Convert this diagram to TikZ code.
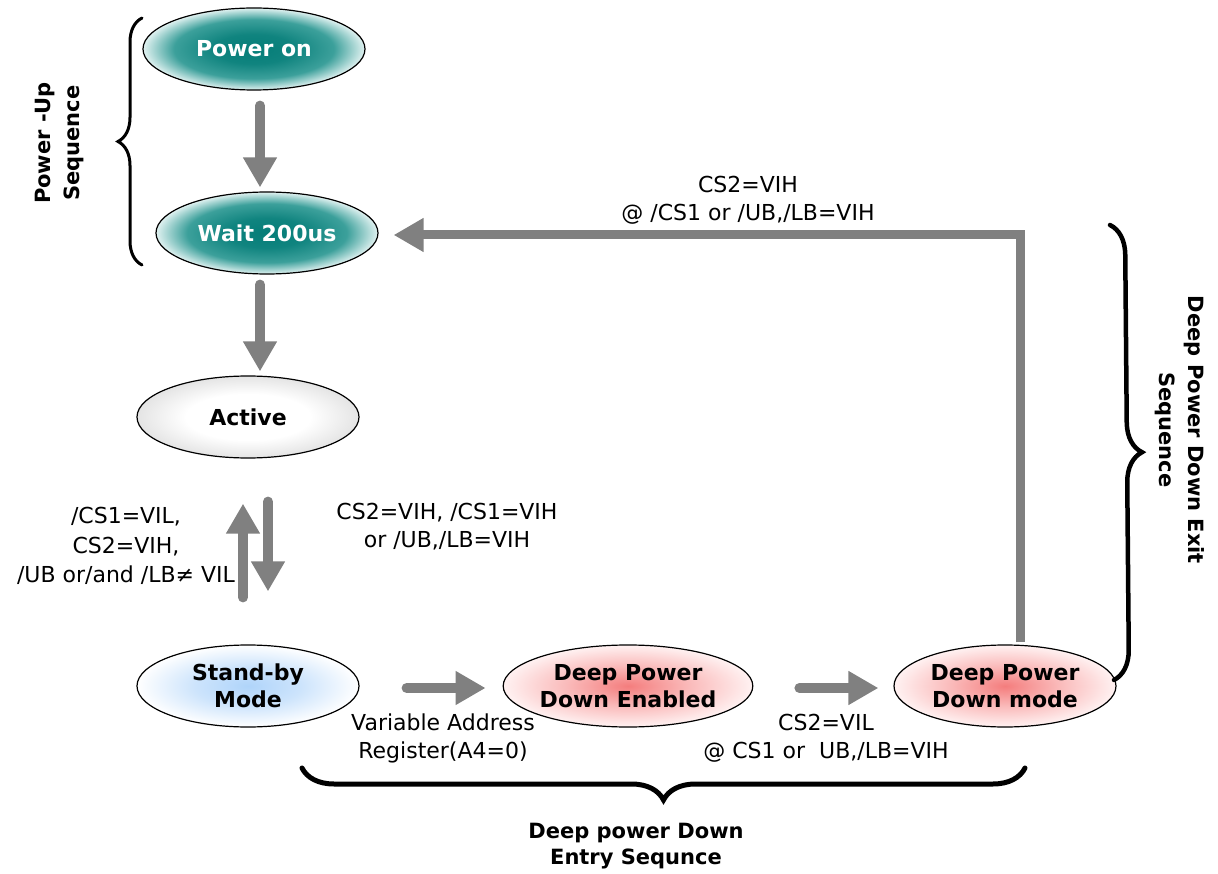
\documentclass[tikz,border=0pt]{standalone}
\usepackage{fontspec}
\setmainfont{DejaVu Sans}
\usetikzlibrary{shapes.geometric,arrows.meta,calc,decorations.pathreplacing}
\definecolor{arrgray}{RGB}{128,128,128}
\definecolor{tealin}{RGB}{5,125,120}
\definecolor{tealmid}{RGB}{60,160,155}
\definecolor{tealout}{RGB}{225,242,241}
\definecolor{bluein}{RGB}{175,212,250}
\definecolor{bluemid}{RGB}{205,228,252}
\definecolor{redin}{RGB}{244,125,125}
\definecolor{redmid}{RGB}{250,185,185}
\definecolor{redout}{RGB}{255,242,242}
\definecolor{grayout}{RGB}{228,228,228}
\pgfdeclareradialshading{tealshade}{\pgfpoint{0bp}{0bp}}{color(0bp)=(tealin); color(9bp)=(tealin!80!tealmid); color(18bp)=(tealmid); color(25bp)=(tealout); color(50bp)=(tealout)}
\pgfdeclareradialshading{blueshade}{\pgfpoint{0bp}{0bp}}{color(0bp)=(bluein); color(12bp)=(bluemid); color(25bp)=(white); color(50bp)=(white)}
\pgfdeclareradialshading{redshade}{\pgfpoint{0bp}{0bp}}{color(0bp)=(redin); color(12bp)=(redmid); color(25bp)=(redout); color(50bp)=(redout)}
\pgfdeclareradialshading{grayshade}{\pgfpoint{0bp}{0bp}}{color(0bp)=(white); color(14bp)=(white); color(25bp)=(grayout); color(50bp)=(grayout)}
\begin{document}
\begin{tikzpicture}[x=1pt,y=-1pt,
  state/.style={ellipse,draw=black,line width=1.2pt,minimum width=222pt,minimum height=82pt,
    inner sep=0pt,align=center,font=\fontsize{22}{27}\selectfont\bfseries},
  tealstate/.style={state,shading=tealshade,text=white},
  graystate/.style={state,shading=grayshade},
  bluestate/.style={state,shading=blueshade},
  redstate/.style={state,shading=redshade},
  bigarrow/.style={draw=arrgray,line width=10pt,line cap=round,-{Triangle[length=30pt,width=32pt]}},
  lbl/.style={align=center,font=\fontsize{22}{28}\selectfont},
  sidelbl/.style={align=center,font=\fontsize{21}{29}\selectfont\bfseries},
  bracestyle/.style={decorate,line width=3.5pt,line cap=round}
]
\useasboundingbox (0,0) rectangle (1218,874);

% states
\node[tealstate] (p) at (254,49) {Power on};
\node[tealstate] (w) at (267,233) {Wait 200us};
\node[graystate] (a) at (248,417) {Active};
\node[bluestate] (s) at (248,686) {Stand-by\\Mode};
\node[redstate] (e) at (628,686) {Deep Power\\Down Enabled};
\node[redstate] (m) at (1005,686) {Deep Power\\Down mode};

% arrows
\draw[bigarrow] ($(p.south)+(6,15)$) -- ($(w.north)+(-7,-4)$);
\draw[bigarrow] ($(w.south)+(-7,10)$) -- ($(a.north)+(12,-4)$);
\draw[bigarrow] ($(s.north)+(-5,-47)$) -- ($(a.south)+(-5,45)$);
\draw[bigarrow] ($(a.south)+(20,43)$) -- ($(s.north)+(20,-53)$);
\draw[bigarrow] ($(s.east)+(47,2)$) -- ($(e.west)+(-17,2)$);
\draw[bigarrow] ($(e.east)+(46,2)$) -- ($(m.west)+(-15,2)$);
\draw[bigarrow,line width=9pt,line cap=butt,line join=miter] ($(m.north)+(15,-2)$) |- ($(w.east)+(15,2)$);

% labels
\node[lbl] (l1) at (748,200) {CS2=VIH\\@ /CS1 or /UB,/LB=VIH};
\node[lbl] (l2) at (447,527) {CS2=VIH, /CS1=VIH\\or /UB,/LB=VIH};
\node[lbl,font=\fontsize{22}{29.5}\selectfont] (l3) at (126,546) {/CS1=VIL,\\CS2=VIH,\\/UB or/and /LB≠ VIL};
\node[lbl] (l4) at (443,738) {Variable Address\\Register(A4=0)};
\node[lbl] (l5) at (826,738) {CS2=VIL\\@ CS1 or\ \ UB,/LB=VIH};

% braces
\coordinate (b1s) at (142,265);
\coordinate (b1e) at (142,18);
\draw[bracestyle,line width=3pt,decoration={brace,amplitude=24pt}] (b1s) -- (b1e);
\coordinate (b2s) at (1110,225);
\coordinate (b2e) at (1114,680);
\draw[bracestyle,line width=4.5pt,decoration={brace,amplitude=30pt}] (b2s) -- (b2e);
\coordinate (b3s) at (1025,768);
\coordinate (b3e) at (302,768);
\draw[bracestyle,line width=5pt,decoration={brace,amplitude=32pt}] (b3s) -- (b3e);

\node[sidelbl,rotate=90] (t1) at (60,143) {Power -Up\\Sequence};
\node[sidelbl,rotate=-90] (t2) at (1180,430) {Deep Power Down Exit\\Sequence};
\node[sidelbl,font=\fontsize{21}{26}\selectfont\bfseries] (t3) at (636,846) {Deep power Down\\Entry Sequnce};
\end{tikzpicture}
\end{document}
